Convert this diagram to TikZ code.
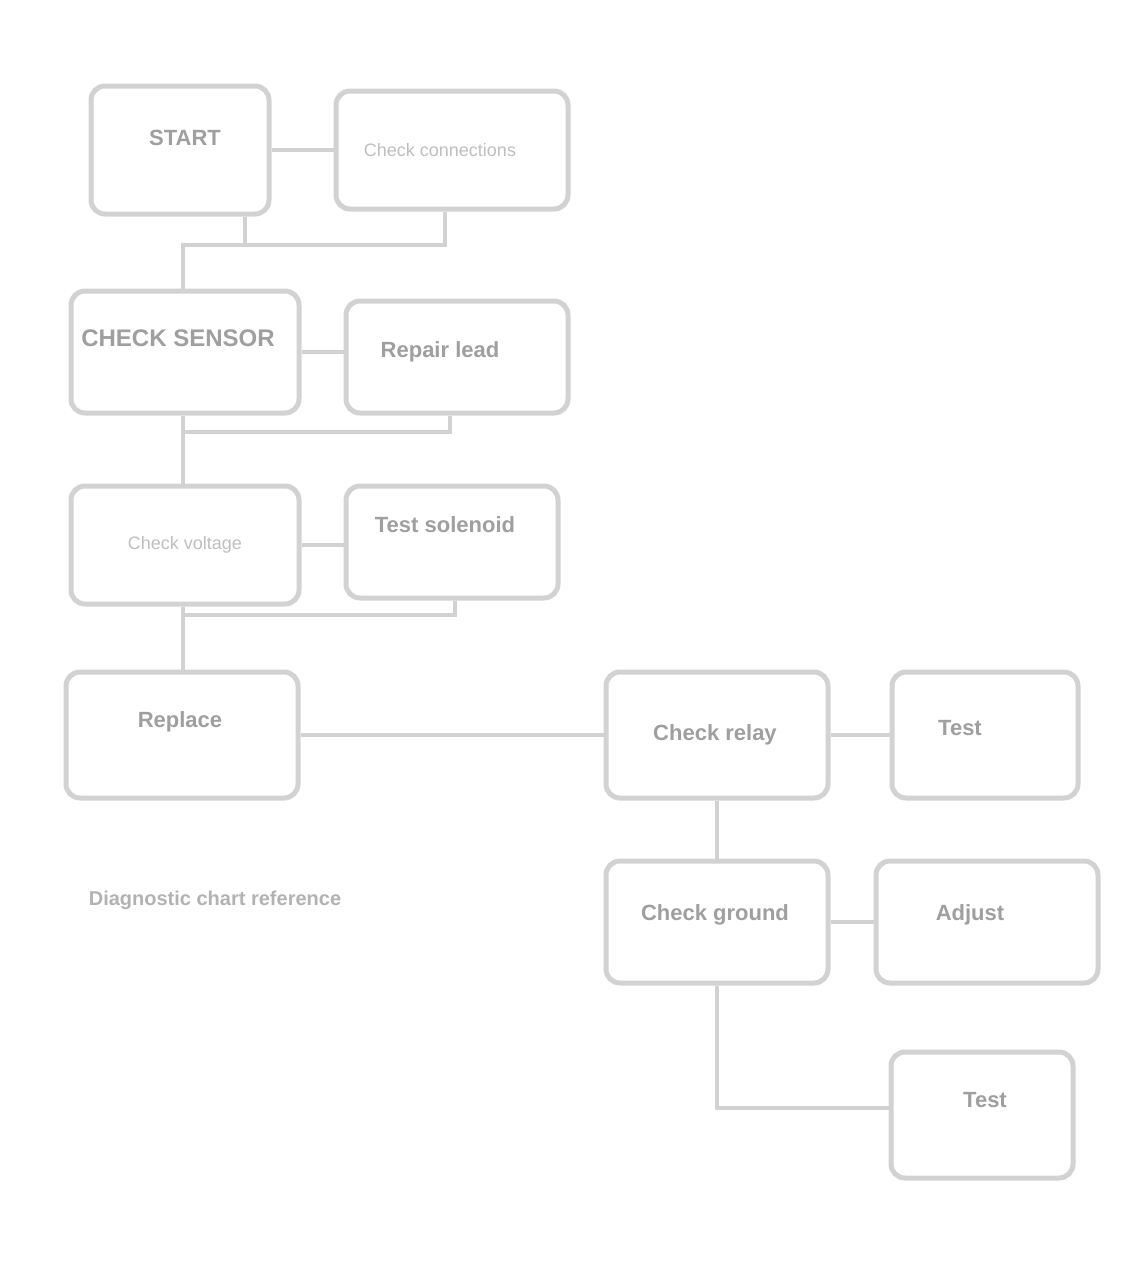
\documentclass[tikz,border=0pt]{standalone}
\usepackage{fontspec}
\setmainfont{Liberation Sans}
\begin{document}
\begin{tikzpicture}[x=1pt,y=-1pt,
  box/.style={draw=gray!35,line width=5pt,rounded corners=14pt,fill=white,inner sep=0pt},
  conn/.style={draw=gray!35,line width=4pt},
  tdark/.style={text=gray!75,font=\fontsize{22}{24}\selectfont\bfseries},
  tlight/.style={text=gray!50,font=\fontsize{18}{20}\selectfont}]
\useasboundingbox (0,0) rectangle (1137,1267);
% boxes
\node[box,minimum width=178pt,minimum height=128pt] (a) at (180,150) {};
\node[box,minimum width=232pt,minimum height=118pt] (b) at (452,150) {};
\node[box,minimum width=228pt,minimum height=122pt] (c) at (185,352) {};
\node[box,minimum width=222pt,minimum height=112pt] (d) at (457,357) {};
\node[box,minimum width=228pt,minimum height=118pt] (e) at (185,545) {};
\node[box,minimum width=212pt,minimum height=112pt] (f) at (452,542) {};
\node[box,minimum width=232pt,minimum height=126pt] (g) at (182,735) {};
\node[box,minimum width=222pt,minimum height=126pt] (h) at (717,735) {};
\node[box,minimum width=186pt,minimum height=126pt] (i) at (985,735) {};
\node[box,minimum width=222pt,minimum height=122pt] (j) at (717,922) {};
\node[box,minimum width=222pt,minimum height=122pt] (k) at (987,922) {};
\node[box,minimum width=182pt,minimum height=126pt] (l) at (982,1115) {};
% texts
\node[tdark] (ta) at (185,138) {START};
\node[tlight] (tb) at (440,150) {Check connections};
\node[tdark,align=center,font=\fontsize{24}{26}\selectfont\bfseries] (tc) at (178,338) {CHECK SENSOR};
\node[tdark] (td) at (440,352) {Repair lead};
\node[tlight] (te) at (185,545) {Check voltage};
\node[tdark] (tf) at (445,525) {Test solenoid};
\node[tdark] (tg) at (180,722) {Replace};
\node[tdark] (th) at (715,735) {Check relay};
\node[tdark] (ti) at (960,728) {Test};
\node[tdark] (tj) at (715,915) {Check ground};
\node[tdark] (tk) at (970,915) {Adjust};
\node[tdark] (tl) at (985,1100) {Test};
\node[text=gray!60,font=\fontsize{20}{22}\selectfont\bfseries] (note) at (215,900) {Diagnostic chart reference};
% connectors
\coordinate (r1) at (183,245);
\coordinate (r1a) at (245,245);
\coordinate (r1b) at (445,245);
\draw[conn] (a) -- (b);
\draw[conn] (a.south -| r1a) -- (r1a);
\draw[conn] (b.south -| r1b) -- (r1b) -- (r1) -- (c.north -| r1);
\coordinate (r2) at (183,432);
\coordinate (r2b) at (450,432);
\draw[conn] (c.east) -- (c.east -| d.west);
\draw[conn] (d.south -| r2b) -- (r2b) -- (r2) -- (e.north -| r2);
\draw[conn] (c.south -| r2) -- (r2);
\coordinate (r3) at (183,615);
\coordinate (r3b) at (455,615);
\draw[conn] (e.east) -- (e.east -| f.west);
\draw[conn] (f.south -| r3b) -- (r3b) -- (r3) -- (g.north -| r3);
\draw[conn] (e.south -| r3) -- (r3);
\draw[conn] (g) -- (h);
\draw[conn] (h) -- (i);
\draw[conn] (h) -- (j);
\draw[conn] (j) -- (k);
\coordinate (r5) at (717,1108);
\draw[conn] (j.south) -- (r5) -- (l.west |- r5);
\end{tikzpicture}
\end{document}
